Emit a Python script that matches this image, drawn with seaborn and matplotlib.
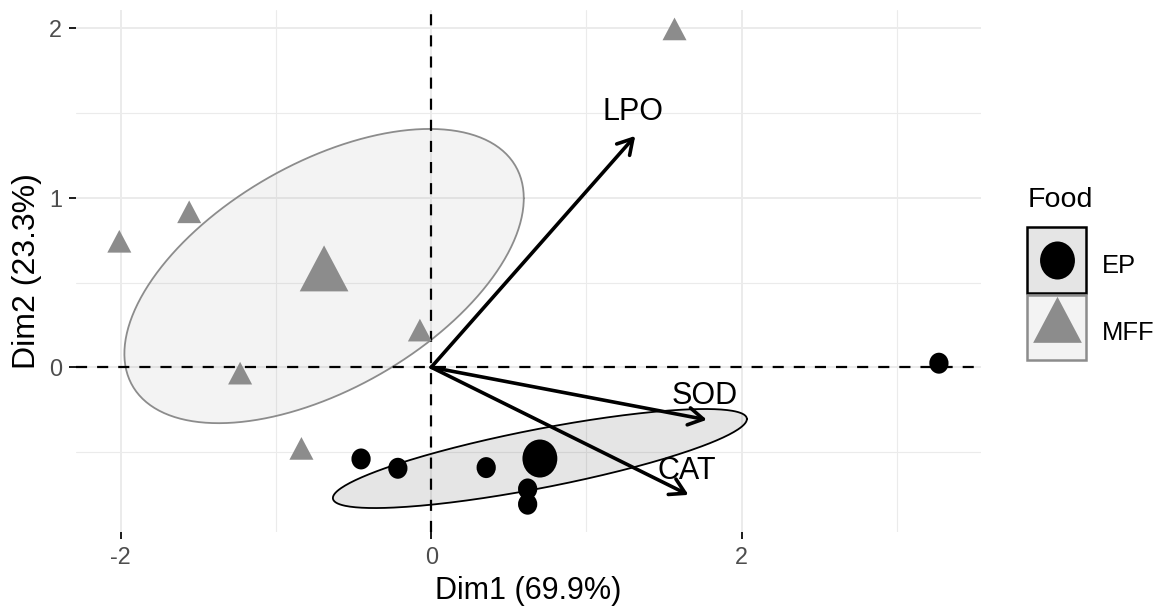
import numpy as np
import pandas as pd
import matplotlib
matplotlib.use("Agg")
import matplotlib.pyplot as plt
import matplotlib.colors as mcolors
import seaborn as sns
from matplotlib.path import Path
from matplotlib.markers import MarkerStyle
from matplotlib.transforms import Affine2D
from matplotlib.patches import FancyArrowPatch, Rectangle, ArrowStyle

# ---- PCA coordinates of the individuals, by food group ----
food_levels = ["EP", "MFF"]
ep_dim1 = [-0.452, -0.215, 0.354, 0.621, 0.621, 3.270]
ep_dim2 = [-0.541, -0.596, -0.592, -0.718, -0.808, 0.024]
mff_dim1 = [-2.009, -1.559, -1.231, -0.836, -0.073, 1.567]
mff_dim2 = [0.721, 0.895, -0.057, -0.501, 0.197, 1.974]

# ---- variable loadings (arrows) ----
var_names = ["LPO", "SOD", "CAT"]
var_dim1 = [1.314, 1.775, 1.657]
var_dim2 = [1.365, -0.310, -0.753]

# ---- axis text ----
x_title = "Dim1 (69.9%)"
y_title = "Dim2 (23.3%)"
legend_title = "Food"
x_major = [-2, 0, 2]
x_minor = [-1, 1, 3]
y_major = [0, 1, 2]
y_minor = [-0.5, 0.5, 1.5]

food_colors = {"EP": "#000000", "MFF": "#8c8c8c"}

ind = pd.DataFrame({
    "Dim1": ep_dim1 + mff_dim1,
    "Dim2": ep_dim2 + mff_dim2,
    "Food": ["EP"] * len(ep_dim1) + ["MFF"] * len(mff_dim1),
})
means = ind.groupby("Food", sort=False)[["Dim1", "Dim2"]].mean().reset_index()

sns.set_theme(style="white")
plt.rcParams["font.family"] = ["Liberation Sans", "DejaVu Sans"]

W, H, DPI = 1156, 611, 100
fig = plt.figure(figsize=(W / DPI, H / DPI), dpi=DPI)
fig.patch.set_facecolor("white")
ax = fig.add_axes([76 / W, 1 - 532 / H, (981 - 76) / W, (532 - 10) / H])

# marker shapes (slightly narrow, matching the plot's pixel aspect)
marker_aspect = 0.917
circle_path = Path.unit_circle().transformed(Affine2D().scale(marker_aspect, 1.0))
tri_path = Path(
    [(0.0, 1.0), (-0.866 * marker_aspect, -0.5), (0.866 * marker_aspect, -0.5), (0.0, 1.0)],
    [Path.MOVETO, Path.LINETO, Path.LINETO, Path.CLOSEPOLY],
)
markers = {"EP": MarkerStyle(circle_path), "MFF": MarkerStyle(tri_path)}
point_sizes = {"EP": 228, "MFF": 474}
mean_sizes = {"EP": 750, "MFF": 1950}

# ---- 95% confidence ellipses around each group mean ----
chi2_95 = -2.0 * np.log(0.05)
theta = np.linspace(0, 2 * np.pi, 300)
unit = np.column_stack([np.cos(theta), np.sin(theta)])
for lvl in food_levels:
    sub = ind[ind["Food"] == lvl]
    pts = sub[["Dim1", "Dim2"]].to_numpy()
    mu = pts.mean(axis=0)
    cov = np.cov(pts.T) / len(pts) * chi2_95
    L = np.linalg.cholesky(cov)
    ell = mu + unit @ L.T
    ax.fill(ell[:, 0], ell[:, 1], facecolor=food_colors[lvl], alpha=0.1,
            edgecolor="none", zorder=1)
    ax.plot(ell[:, 0], ell[:, 1], color=food_colors[lvl], lw=1.3, zorder=1.5)

# ---- reference lines ----
ax.axhline(0, color="black", lw=1.6, ls=(0, (5, 4.5)), zorder=2)
ax.axvline(0, color="black", lw=1.6, ls=(0, (5, 4.5)), zorder=2)

# ---- individuals and group means ----
common = dict(x="Dim1", y="Dim2", hue="Food", style="Food", size="Food",
              hue_order=food_levels, style_order=food_levels, size_order=food_levels,
              palette=food_colors, markers=markers, edgecolor="none",
              linewidth=0, legend=False, ax=ax)
sns.scatterplot(data=ind, sizes=point_sizes, zorder=4, **common)
sns.scatterplot(data=means, sizes=mean_sizes, zorder=4, **common)

# ---- variable arrows ----
head = ArrowStyle("->", head_length=0.53, head_width=0.31)
for name, vx, vy in zip(var_names, var_dim1, var_dim2):
    arr = FancyArrowPatch((0, 0), (vx, vy), arrowstyle=head, mutation_scale=20,
                          lw=2.6, color="black", shrinkA=0, shrinkB=0, zorder=5)
    ax.add_patch(arr)
    ax.annotate(name, (vx, vy), xytext=(-1.5, 11.5), textcoords="offset points",
                ha="center", va="baseline", fontsize=22, color="black", zorder=6)

# ---- axes ----
ax.set_xlim(-2.288, 3.541)
ax.set_ylim(-0.972, 2.108)
ax.set_xticks(x_major)
ax.set_xticks(x_minor, minor=True)
ax.set_yticks(y_major)
ax.set_yticks(y_minor, minor=True)
ax.set_xticklabels([str(v) for v in x_major])
ax.set_yticklabels([str(v) for v in y_major])
ax.tick_params(which="major", bottom=True, left=True, length=5, width=1.4,
               color="#1a1a1a", labelsize=16.8, labelcolor="#4d4d4d", pad=5)
ax.tick_params(which="minor", bottom=False, left=False, length=0)
ax.grid(True, which="major", color="#ebebeb", lw=1.4)
ax.grid(True, which="minor", color="#ebebeb", lw=0.8)
ax.set_axisbelow(True)
for sp in ax.spines.values():
    sp.set_visible(False)
ax.set_facecolor("white")
ax.set_xlabel(x_title, fontsize=22, labelpad=5, color="black")
ax.set_ylabel(y_title, fontsize=23, labelpad=5, color="black")

# ---- legend ----
lax = fig.add_axes([0, 0, 1, 1])
lax.set_xlim(0, W)
lax.set_ylim(H, 0)
lax.axis("off")
lax.text(1028, 207, legend_title, fontsize=20.5, ha="left", va="baseline", color="black")
key_left, key_w, key_h, key_top0, key_step = 1027, 59, 65.5, 227, 67.5
for i, lvl in enumerate(food_levels):
    top = key_top0 + i * key_step
    cy = top + key_h / 2
    lax.add_patch(Rectangle((key_left, top), key_w, key_h,
                            facecolor=mcolors.to_rgba(food_colors[lvl], 0.1),
                            edgecolor=food_colors[lvl], lw=1.8))
    lax.scatter([key_left + key_w / 2], [cy], marker=markers[lvl], s=mean_sizes[lvl],
                color=food_colors[lvl], linewidths=0)
    lax.text(1101.7, cy + 13, lvl, fontsize=18.4, ha="left", va="baseline", color="black")

fig.savefig("out.png", dpi=DPI, facecolor="white")
